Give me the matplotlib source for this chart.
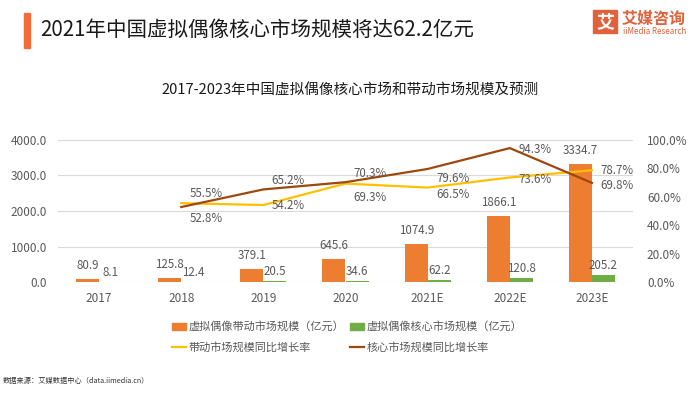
import numpy as np
import matplotlib
matplotlib.use("Agg")
import matplotlib.pyplot as plt
from matplotlib.patches import Rectangle, Patch
from matplotlib.lines import Line2D

plt.rcParams['font.family'] = ['Noto Sans CJK SC', 'DejaVu Sans']

# data
years = ['2017', '2018', '2019', '2020', '2021E', '2022E', '2023E']
driven_size = [80.9, 125.8, 379.1, 645.6, 1074.9, 1866.1, 3334.7]
core_size = [8.1, 12.4, 20.5, 34.6, 62.2, 120.8, 205.2]
driven_growth = [np.nan, 55.5, 54.2, 69.3, 66.5, 73.6, 78.7]
core_growth = [np.nan, 52.8, 65.2, 70.3, 79.6, 94.3, 69.8]

# label offsets (pixels) for the growth-rate labels
driven_dy = [0, 10, 0, -14, -7, -2, 0]
core_dy = [0, -11, 9, 9, -10, -1, -3]

ORANGE = '#ED7D31'
GREEN = '#70AD47'
YELLOW = '#FFC000'
BROWN = '#9E480E'
GREY = '#595959'

fig = plt.figure(figsize=(7, 3.94), dpi=100)
ax = fig.add_axes([58 / 700, 1 - 282 / 394, (633 - 58) / 700, (282 - 140) / 394])
ax2 = ax.twinx()

x = np.arange(len(years))
w = 0.28
ax.bar(x - w / 2, driven_size, w, color=ORANGE, zorder=2)
ax.bar(x + w / 2, core_size, w, color=GREEN, zorder=2)

for xi, v in zip(x, driven_size):
    ax.annotate(f'{v:.1f}', (xi - w / 2, v), xytext=(0, 7), textcoords='offset pixels',
                ha='center', va='bottom', fontsize=8.3, color=GREY)
for xi, v in zip(x, core_size):
    ax.annotate(f'{v:.1f}', (xi + w / 2, v), xytext=(0, 3), textcoords='offset pixels',
                ha='center', va='bottom', fontsize=8.3, color=GREY)

ax.set_xlim(-0.5, len(years) - 0.5)
ax.set_ylim(0, 4000)
ax.set_yticks(np.arange(0, 4001, 1000))
ax.set_yticklabels([f'{v:.1f}' for v in np.arange(0, 4001, 1000)])
ax.set_xticks(x)
ax.set_xticklabels(years)
ax.grid(axis='y', color='#D9D9D9', linewidth=0.8, zorder=0)
ax.set_axisbelow(True)
for s in ['top', 'right', 'left', 'bottom']:
    ax.spines[s].set_visible(False)
    ax2.spines[s].set_visible(False)
ax.tick_params(axis='both', length=0, labelsize=8.5, colors=GREY)
ax.tick_params(axis='y', pad=8)
ax.tick_params(axis='x', pad=7)

ax2.plot(x, driven_growth, color=YELLOW, linewidth=1.6, zorder=3)
ax2.plot(x, core_growth, color=BROWN, linewidth=1.6, zorder=3)
ax2.set_ylim(0, 100)
ax2.set_yticks(np.arange(0, 101, 20))
ax2.set_yticklabels([f'{v:.1f}%' for v in np.arange(0, 101, 20)])
ax2.tick_params(axis='y', length=0, labelsize=8.5, colors=GREY, pad=10)

for xi, v, dy in zip(x, driven_growth, driven_dy):
    if not np.isnan(v):
        ax2.annotate(f'{v:.1f}%', (xi, v), xytext=(25, dy), textcoords='offset pixels',
                     ha='center', va='center', fontsize=8.3, color=GREY)
for xi, v, dy in zip(x, core_growth, core_dy):
    if not np.isnan(v):
        ax2.annotate(f'{v:.1f}%', (xi, v), xytext=(25, dy), textcoords='offset pixels',
                     ha='center', va='center', fontsize=8.3, color=GREY)

handles = [Patch(color=ORANGE), Line2D([], [], color=YELLOW, linewidth=1.6),
           Patch(color=GREEN), Line2D([], [], color=BROWN, linewidth=1.6)]
labels = ['虚拟偶像带动市场规模（亿元）', '带动市场规模同比增长率',
          '虚拟偶像核心市场规模（亿元）', '核心市场规模同比增长率']
fig.legend(handles, labels, ncol=2, loc='center left', bbox_to_anchor=(166 / 700, 1 - 337 / 394),
           frameon=False, fontsize=8, handlelength=1.3, handleheight=0.6, handletextpad=0.2,
           columnspacing=0.5, labelspacing=0.9, labelcolor=GREY, borderpad=0)

# headers
fig.patches.append(Rectangle((24 / 700, 1 - 48 / 394), 6 / 700, 35 / 394,
                             transform=fig.transFigure, color='#F26B3A'))
fig.text(40 / 700, 1 - 30 / 394, '2021年中国虚拟偶像核心市场规模将达62.2亿元',
         fontsize=14.8, color='#1a1a1a', va='center', ha='left', fontweight='medium')
fig.text(350 / 700, 1 - 90 / 394, '2017-2023年中国虚拟偶像核心市场和带动市场规模及预测',
         fontsize=10.5, color='#1a1a1a', va='center', ha='center', fontweight='medium')

# logo
fig.patches.append(Rectangle((593 / 700, 1 - 33 / 394), 24 / 700, 23 / 394,
                             transform=fig.transFigure, color='#E0613A'))
fig.text(605 / 700, 1 - 21.5 / 394, '艾', fontsize=13, color='white', ha='center', va='center',
         fontweight='bold')
fig.text(622 / 700, 1 - 19 / 394, '艾媒咨询', fontsize=11.5, color='#E0613A', ha='left', va='center',
         fontweight='bold')
fig.text(623 / 700, 1 - 32 / 394, 'iiMedia Research', fontsize=5.8, color='#E0613A', ha='left',
         va='center')

fig.text(3 / 700, 1 - 381 / 394, '数据来源：艾媒数据中心（data.iimedia.cn）', fontsize=5.2,
         color='#333333', ha='left', va='center')

fig.savefig('out.png', dpi=100)
